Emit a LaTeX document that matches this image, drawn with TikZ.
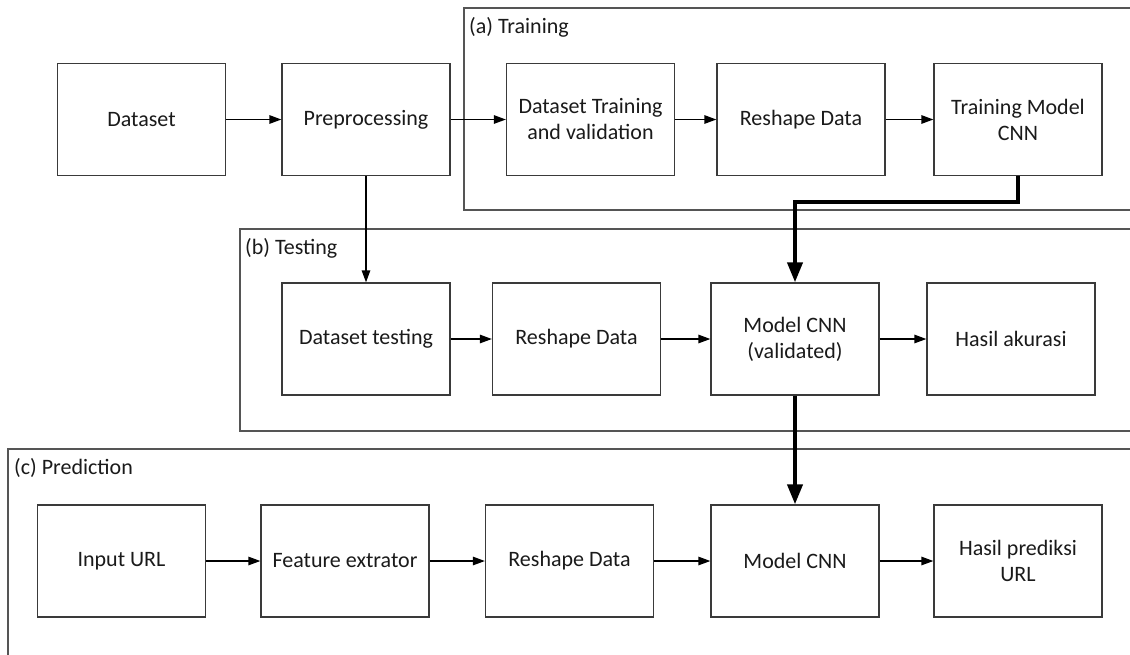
\documentclass[tikz,border=0pt]{standalone}
\usepackage{fontspec}
\setmainfont{Carlito}
\usetikzlibrary{arrows.meta}
\definecolor{linec}{HTML}{3A3A3A}
\definecolor{framec}{HTML}{555555}
\definecolor{textc}{HTML}{1A1A1A}
\tikzset{
  box/.style={draw=linec, line width=1.3pt, minimum width=168pt, minimum height=112pt,
    inner sep=0pt, align=center, text=textc, font=\fontsize{22}{26}\selectfont},
  frame/.style={draw=framec, line width=1.3pt},
  flabel/.style={anchor=west, inner sep=0pt, text=textc, font=\fontsize{22}{26}\selectfont},
  flow/.style={draw=black, line width=1.3pt, -{Triangle[length=12pt,width=8.5pt]}},
  thick flow/.style={draw=black, line width=4pt, -{Triangle[length=20pt,width=15pt]}}
}
\begin{document}
\begin{tikzpicture}[x=1pt,y=-1pt]
\useasboundingbox (0,0) rectangle (1130,654);
\clip (0,0) rectangle (1130,654);
\fill[white] (0,0) rectangle (1130,654);
% frames
\draw[frame] (1145,8) -- (464,8) -- (464,210) -- (1145,210);
\draw[frame] (1145,229) -- (240,229) -- (240,431) -- (1145,431);
\draw[frame] (1145,449) -- (8,449) -- (8,670);
\node[flabel] (la) at (469,27) {(a) Training};
\node[flabel] (lb) at (245,248) {(b) Testing};
\node[flabel] (lc) at (14,468) {(c) Prediction};
% row 1
\node[box] (ds) at (141.5,119.5) {Dataset};
\node[box] (pre) at (366,119.5) {Preprocessing};
\node[box] (dtv) at (590.5,119.5) {Dataset Training\\and validation};
\node[box] (rs1) at (801,119.5) {Reshape Data};
\node[box] (tm) at (1018,119.5) {Training Model\\CNN};
% row 2
\node[box] (dt) at (366,339) {Dataset testing};
\node[box] (rs2) at (576.5,339) {Reshape Data};
\node[box] (mcv) at (795,339) {Model CNN\\(validated)};
\node[box] (ha) at (1011,339) {Hasil akurasi};
% row 3
\node[box] (in) at (121.5,561) {Input URL};
\node[box] (fe) at (345,561) {Feature extrator};
\node[box] (rs3) at (569.5,561) {Reshape Data};
\node[box] (mc) at (795,561) {Model CNN};
\node[box] (hp) at (1018,561) {Hasil prediksi\\URL};
% connectors
\draw[flow] (ds) -- (pre);
\draw[flow] (pre) -- (dtv);
\draw[flow] (dtv) -- (rs1);
\draw[flow] (rs1) -- (tm);
\draw[flow] (pre) -- (dt);
\draw[flow] (dt) -- (rs2);
\draw[flow] (rs2) -- (mcv);
\draw[flow] (mcv) -- (ha);
\draw[flow] (in) -- (fe);
\draw[flow] (fe) -- (rs3);
\draw[flow] (rs3) -- (mc);
\draw[flow] (mc) -- (hp);
\draw[thick flow] (tm.south) -- ++(0,26) -| (mcv.north);
\draw[thick flow] (mcv.south) -- (mc.north);
\end{tikzpicture}
\end{document}
